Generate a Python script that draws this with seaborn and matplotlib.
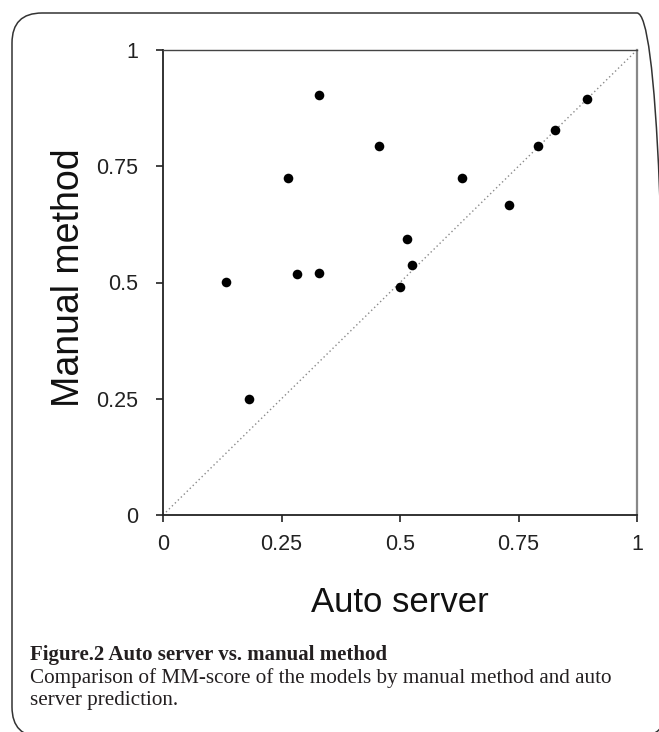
import numpy as np
import pandas as pd
import seaborn as sns
import matplotlib.pyplot as plt
from matplotlib.patches import FancyBboxPatch

# =====================================================
# data
# =====================================================

auto_server = [0.133, 0.182, 0.264, 0.282, 0.329, 0.329, 0.456,
               0.515, 0.525, 0.499, 0.630, 0.730, 0.791, 0.826, 0.894]
manual_method = [0.502, 0.249, 0.724, 0.518, 0.521, 0.903, 0.794,
                 0.594, 0.537, 0.490, 0.724, 0.667, 0.794, 0.829, 0.895]

tick_values = [0, 0.25, 0.5, 0.75, 1]
tick_labels = ["0", "0.25", "0.5", "0.75", "1"]

df = pd.DataFrame({"auto": auto_server, "manual": manual_method})

# =====================================================
# style
# =====================================================

sns.set_style("ticks")
plt.rcParams["font.family"] = ["Liberation Sans", "DejaVu Sans"]

fig = plt.figure(figsize=(6.59, 7.32), dpi=100)
ax = fig.add_axes([163 / 659, 1 - 515 / 732, 474 / 659, 465 / 732])

# diagonal y = x
ax.plot([0, 1], [0, 1], linestyle=(0, (1, 2)), color="#8a8a8a",
        linewidth=1.0, zorder=1)

sns.scatterplot(
    data=df,
    x="auto",
    y="manual",
    color="black",
    s=48,
    edgecolor="black",
    linewidth=0,
    ax=ax,
    zorder=3
)

ax.set_xlim(0, 1)
ax.set_ylim(0, 1)
ax.set_xticks(tick_values)
ax.set_xticklabels(tick_labels)
ax.set_yticks(tick_values)
ax.set_yticklabels(tick_labels)

ax.tick_params(axis="both", direction="out", length=5, width=1.2,
               colors="#222222", labelsize=15.5, labelcolor="#222222")
ax.tick_params(axis="y", pad=13)
ax.tick_params(axis="x", pad=9)

for side in ["left", "bottom"]:
    ax.spines[side].set_color("#222222")
    ax.spines[side].set_linewidth(1.3)
ax.spines["right"].set_color("#888888")
ax.spines["right"].set_linewidth(1.6)
ax.spines["top"].set_linewidth(1.0)
ax.spines["top"].set_color("#444444")

ax.set_xlabel("Auto server", fontsize=25, color="#111111")
ax.set_ylabel("Manual method", fontsize=27, color="#111111")
ax.xaxis.set_label_coords(0.5, -0.152)
ax.yaxis.set_label_coords(-0.161, 0.51)

# =====================================================
# caption + rounded frame
# =====================================================

serif = ["Liberation Serif", "DejaVu Serif"]
fig.text(30 / 659, 1 - 660 / 732, "Figure.2 Auto server vs. manual method",
         fontsize=15, fontweight="bold", family=serif, color="#231f20")
fig.text(30 / 659, 1 - 683 / 732,
         "Comparison of MM-score of the models by manual method and auto",
         fontsize=15.2, family=serif, color="#231f20")
fig.text(30 / 659, 1 - 705 / 732, "server prediction.",
         fontsize=15.2, family=serif, color="#231f20")

frame = FancyBboxPatch(
    (0.12, -0.05), 6.55, 7.24,
    boxstyle="round,pad=0,rounding_size=0.3",
    transform=fig.dpi_scale_trans,
    facecolor="none",
    edgecolor="#333333",
    linewidth=1.1
)
fig.add_artist(frame)

fig.savefig("out.png", dpi=100)
